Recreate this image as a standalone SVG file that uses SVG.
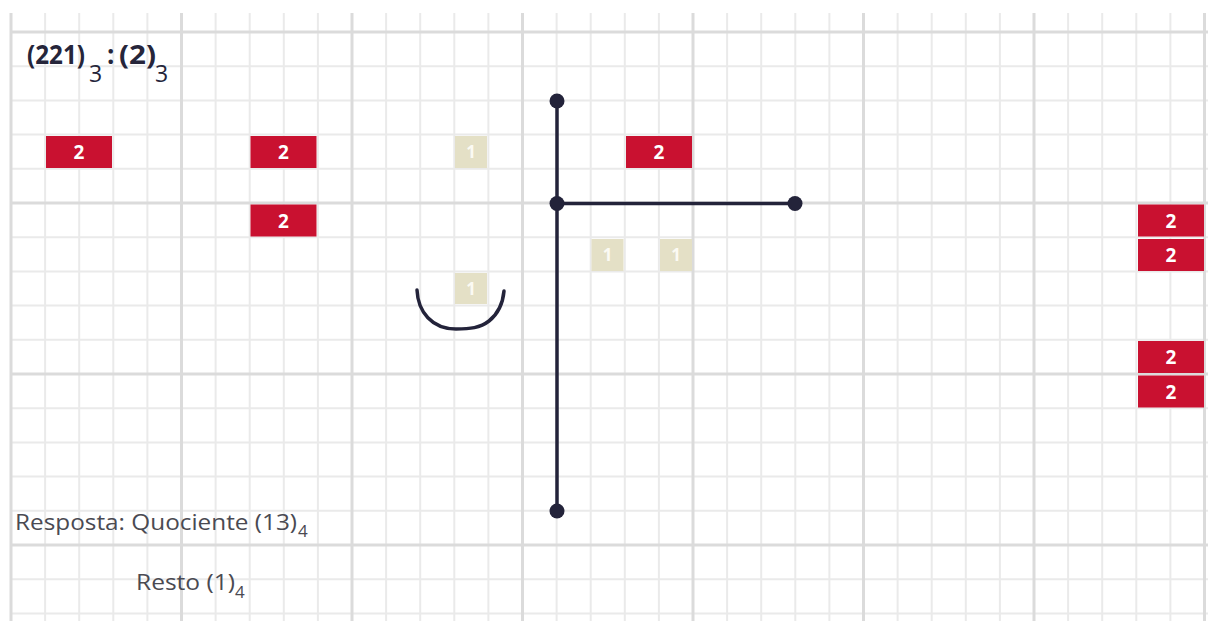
<svg xmlns="http://www.w3.org/2000/svg" width="1208" height="621" viewBox="0 0 1208 621">
<style>
.mi{stroke:#eaeaea;stroke-width:2}
.ma{stroke:#dbdbdb;stroke-width:3}
.red rect{fill:#c91130}
.red text{fill:#fff;font-family:"Open Sans","Liberation Sans",sans-serif;font-weight:bold;font-size:19px;text-anchor:middle}
.bei rect{fill:#e4e0c6}
.bei text{fill:#fbfaf3;font-family:"Open Sans","Liberation Sans",sans-serif;font-weight:bold;font-size:17px;text-anchor:middle}
.ln{stroke:#23233a;stroke-width:3.5;fill:none;stroke-linecap:round}
.dot{fill:#23233a}
.t{font-family:"Open Sans","Liberation Sans",sans-serif}
</style>
<rect width="1208" height="621" fill="#fff"/>
<g id="grid">
<g class="mi">
<line x1="45.1" y1="13" x2="45.1" y2="621"/><line x1="79.2" y1="13" x2="79.2" y2="621"/><line x1="113.3" y1="13" x2="113.3" y2="621"/><line x1="147.4" y1="13" x2="147.4" y2="621"/>
<line x1="215.6" y1="13" x2="215.6" y2="621"/><line x1="249.7" y1="13" x2="249.7" y2="621"/><line x1="283.8" y1="13" x2="283.8" y2="621"/><line x1="317.9" y1="13" x2="317.9" y2="621"/>
<line x1="386.1" y1="13" x2="386.1" y2="621"/><line x1="420.2" y1="13" x2="420.2" y2="621"/><line x1="454.3" y1="13" x2="454.3" y2="621"/><line x1="488.4" y1="13" x2="488.4" y2="621"/>
<line x1="556.6" y1="13" x2="556.6" y2="621"/><line x1="590.7" y1="13" x2="590.7" y2="621"/><line x1="624.8" y1="13" x2="624.8" y2="621"/><line x1="658.9" y1="13" x2="658.9" y2="621"/>
<line x1="727.1" y1="13" x2="727.1" y2="621"/><line x1="761.2" y1="13" x2="761.2" y2="621"/><line x1="795.3" y1="13" x2="795.3" y2="621"/><line x1="829.4" y1="13" x2="829.4" y2="621"/>
<line x1="897.6" y1="13" x2="897.6" y2="621"/><line x1="931.7" y1="13" x2="931.7" y2="621"/><line x1="965.8" y1="13" x2="965.8" y2="621"/><line x1="999.9" y1="13" x2="999.9" y2="621"/>
<line x1="1068.1" y1="13" x2="1068.1" y2="621"/><line x1="1102.2" y1="13" x2="1102.2" y2="621"/><line x1="1136.3" y1="13" x2="1136.3" y2="621"/><line x1="1170.4" y1="13" x2="1170.4" y2="621"/>
<line x1="11" y1="66.2" x2="1208" y2="66.2"/><line x1="11" y1="100.4" x2="1208" y2="100.4"/><line x1="11" y1="134.6" x2="1208" y2="134.6"/><line x1="11" y1="168.8" x2="1208" y2="168.8"/>
<line x1="11" y1="237.2" x2="1208" y2="237.2"/><line x1="11" y1="271.4" x2="1208" y2="271.4"/><line x1="11" y1="305.6" x2="1208" y2="305.6"/><line x1="11" y1="339.8" x2="1208" y2="339.8"/>
<line x1="11" y1="408.2" x2="1208" y2="408.2"/><line x1="11" y1="442.4" x2="1208" y2="442.4"/><line x1="11" y1="476.6" x2="1208" y2="476.6"/><line x1="11" y1="510.8" x2="1208" y2="510.8"/>
<line x1="11" y1="579.2" x2="1208" y2="579.2"/><line x1="11" y1="613.4" x2="1208" y2="613.4"/>
</g>
<g class="ma">
<line x1="11" y1="13" x2="11" y2="621"/><line x1="181.5" y1="13" x2="181.5" y2="621"/><line x1="352" y1="13" x2="352" y2="621"/><line x1="522.5" y1="13" x2="522.5" y2="621"/>
<line x1="693" y1="13" x2="693" y2="621"/><line x1="863.5" y1="13" x2="863.5" y2="621"/><line x1="1034" y1="13" x2="1034" y2="621"/><line x1="1204.5" y1="13" x2="1204.5" y2="621"/>
<line x1="11" y1="32" x2="1208" y2="32"/><line x1="11" y1="203" x2="1208" y2="203"/><line x1="11" y1="374" x2="1208" y2="374"/><line x1="11" y1="545" x2="1208" y2="545"/>
</g>
</g>
<g id="title" class="t" fill="#25253a">
<text x="27" y="64" font-size="26" font-weight="bold" textLength="58" lengthAdjust="spacingAndGlyphs">(221)</text>
<text x="89" y="82" font-size="23">3</text>
<text x="107" y="64" font-size="26" font-weight="bold">:</text>
<text x="119" y="64" font-size="26" font-weight="bold" textLength="37" lengthAdjust="spacingAndGlyphs">(2)</text>
<text x="155" y="82" font-size="23">3</text>
</g>
<g id="r1" class="red"><rect x="46" y="136" width="66" height="32"/><text x="79" y="159">2</text></g>
<g id="r2" class="red"><rect x="250.5" y="136" width="66" height="32"/><text x="283.5" y="159">2</text></g>
<g id="r3" class="red"><rect x="250.5" y="204.5" width="66" height="32"/><text x="283.5" y="227.5">2</text></g>
<g id="r4" class="red"><rect x="626" y="136" width="66" height="32"/><text x="659" y="159">2</text></g>
<g id="r5" class="red"><rect x="1138" y="204.5" width="66" height="32"/><text x="1171" y="227.5">2</text></g>
<g id="r6" class="red"><rect x="1138" y="239" width="66" height="32"/><text x="1171" y="262">2</text></g>
<g id="r7" class="red"><rect x="1138" y="341" width="66" height="32"/><text x="1171" y="364">2</text></g>
<g id="r8" class="red"><rect x="1138" y="375.5" width="66" height="32"/><text x="1171" y="398.5">2</text></g>
<g id="b1" class="bei"><rect x="455" y="136" width="32" height="32"/><text x="471" y="158">1</text></g>
<g id="b2" class="bei"><rect x="455" y="273" width="32" height="31"/><text x="471" y="295">1</text></g>
<g id="b3" class="bei"><rect x="591.5" y="239" width="32" height="32"/><text x="607.5" y="261">1</text></g>
<g id="b4" class="bei"><rect x="660" y="239" width="32" height="32"/><text x="676" y="261">1</text></g>
<g id="connectors">
<line class="ln" x1="557" y1="101" x2="557" y2="511"/>
<line class="ln" x1="557" y1="203.5" x2="795" y2="203.5"/>
<circle class="dot" cx="557" cy="101" r="7.5"/>
<circle class="dot" cx="557" cy="203.5" r="7.5"/>
<circle class="dot" cx="795" cy="203.5" r="7.5"/>
<circle class="dot" cx="557" cy="511" r="7.5"/>
<path class="ln" d="M417,290 C418,312 432,329 456,329 C470,329 480,328 489,321 C499,313 503,302 504,291"/>
</g>
<g id="answer" class="t" fill="#4a4a52">
<text x="15" y="530" font-size="22" textLength="282" lengthAdjust="spacingAndGlyphs">Resposta: Quociente (13)</text>
<text x="298" y="537" font-size="17">4</text>
<text x="136" y="590" font-size="22" textLength="99" lengthAdjust="spacingAndGlyphs">Resto (1)</text>
<text x="235" y="598" font-size="17">4</text>
</g>
</svg>
